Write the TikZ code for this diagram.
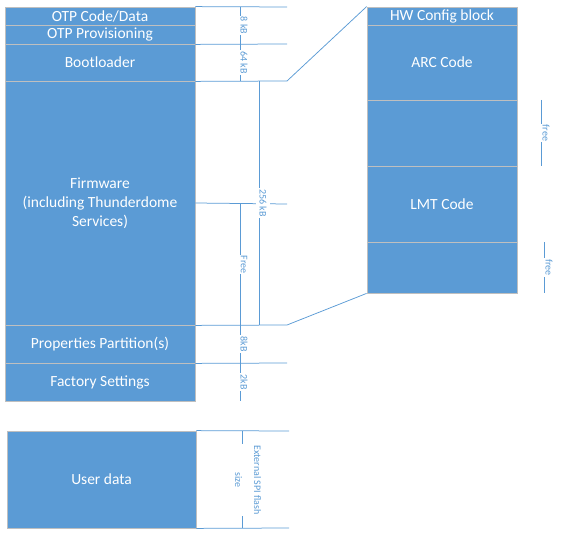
\documentclass[tikz,border=0pt]{standalone}
\usepackage{fontspec}
\setmainfont{Carlito}
\usepackage{xcolor}
\definecolor{blockblue}{RGB}{91,155,213}
\definecolor{edgegray}{RGB}{191,191,191}
\definecolor{dimblue}{RGB}{91,155,213}
\tikzset{
  block/.style={draw=edgegray, line width=0.8pt, fill=blockblue, text=white,
    font=\fontsize{15.5}{19}\selectfont, align=center, inner sep=0pt},
  leftblock/.style={block, minimum width=190pt},
  rightblock/.style={block, minimum width=150pt},
  dimline/.style={draw=dimblue, line width=0.75pt},
  dimlabel/.style={text=dimblue, font=\fontsize{10}{11}\selectfont, rotate=-90,
    fill=white, inner xsep=1pt, inner ysep=3pt, align=center}
}

\begin{document}
\begin{tikzpicture}[x=1pt,y=-1pt]
     \useasboundingbox (0,0) rectangle (561,545);

     % draw flash blocks
     \node[leftblock, minimum height=18pt] (otpcode) at (100,16) {OTP Code/Data};
     \node[leftblock, minimum height=19pt] (otpprov) at (100,34.5) {OTP Provisioning};
     \node[leftblock, minimum height=37pt] (boot) at (100,62.5) {Bootloader};
     \node[leftblock, minimum height=244pt] (firmware) at (100,203) {Firmware\\(including Thunderdome\\Services)};
     \node[leftblock, minimum height=38pt] (props) at (100,344) {Properties Partition(s)};
     \node[leftblock, minimum height=38pt] (factory) at (100,382) {Factory Settings};
     \node[block, minimum width=189pt, minimum height=97pt] (userdata) at (101.5,479.5) {User data};

     % draw firmware detail blocks
     \node[rightblock, minimum height=18pt] (hwcfg) at (442,16) {HW Config block};
     \node[rightblock, minimum height=75pt] (arc) at (442,62.5) {ARC Code};
     \node[rightblock, minimum height=66pt] (free1) at (442,133) {};
     \node[rightblock, minimum height=76pt] (lmt) at (442,204) {LMT Code};
     \node[rightblock, minimum height=51pt] (free2) at (442,267.5) {};

     % draw extension lines
     \coordinate (r0) at (287,7);
     \coordinate (r1) at (287,44);
     \coordinate (r2) at (287,81);
     \coordinate (r3) at (287,204);
     \coordinate (r4) at (287,325);
     \coordinate (r5) at (287,363);
     \coordinate (u0) at (289,431);
     \coordinate (u1) at (289,528);
     \draw[dimline] (otpcode.north east) -- (r0);
     \draw[dimline] (otpprov.south east) -- (r1);
     \draw[dimline] (boot.south east) -- (r2) -- (hwcfg.north west);
     \draw[dimline] (firmware.east) -- (r3);
     \draw[dimline] (firmware.south east) -- (r4) -- (free2.south west);
     \draw[dimline] (props.south east) -- (r5);
     \draw[dimline] (userdata.north east) -- (u0);
     \draw[dimline] (userdata.south east) -- (u1);

     % draw size lines
     \coordinate (a0) at (240,7);
     \coordinate (a1) at (240,81);
     \coordinate (b0) at (259,81);
     \coordinate (b1) at (259,325);
     \coordinate (c0) at (240,204);
     \coordinate (c1) at (240,401);
     \coordinate (e0) at (242,431);
     \coordinate (e1) at (242,528);
     \coordinate (f0) at (541,100);
     \coordinate (f1) at (541,166);
     \coordinate (g0) at (544,242);
     \coordinate (g1) at (544,293);
     \draw[dimline] (a0) -- (a1);
     \draw[dimline] (b0) -- (b1);
     \draw[dimline] (c0) -- (c1);
     \draw[dimline] (e0) -- (e1);
     \draw[dimline] (f0) -- (f1);
     \draw[dimline] (g0) -- (g1);

     % draw size labels
     \node[dimlabel] (size8) at (244,25.5) {8 kB};
     \node[dimlabel] (size64) at (244,62.5) {64 kB};
     \node[dimlabel] (size256) at (263,203) {256 kB};
     \node[dimlabel] (sizefree) at (244,264.5) {Free};
     \node[dimlabel] (sizeprops) at (244,344) {8kB};
     \node[dimlabel] (sizefactory) at (244,382) {2kB};
     \node[dimlabel, font=\fontsize{10}{19}\selectfont] (sizeext) at (248,480) {External SPI flash\\size};
     \node[dimlabel] (sizefree1) at (546,133) {free};
     \node[dimlabel] (sizefree2) at (549,267.5) {free};

\end{tikzpicture}
\end{document}
